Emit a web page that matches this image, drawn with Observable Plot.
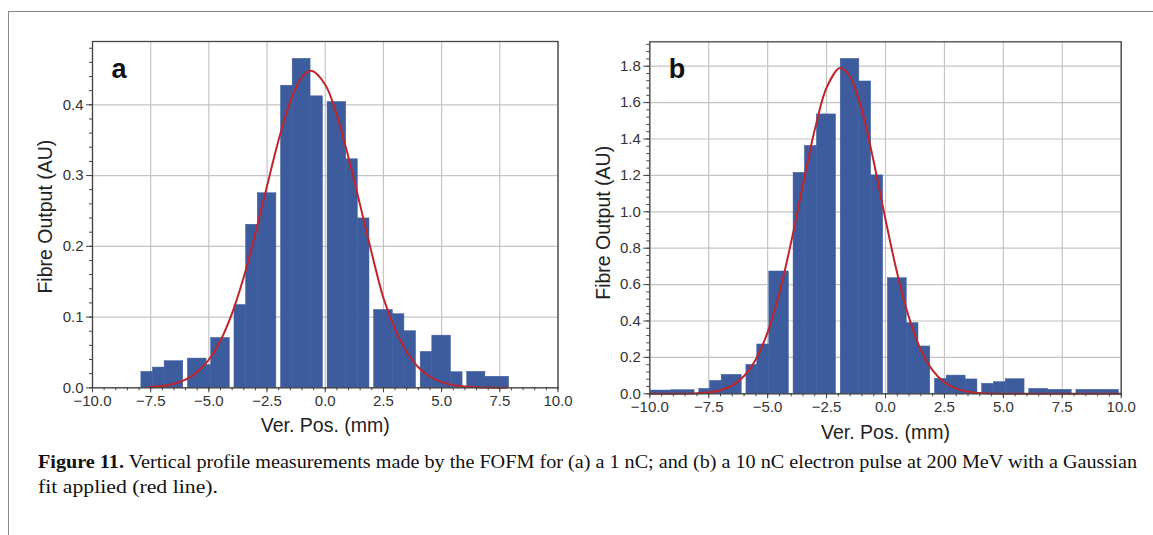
<!DOCTYPE html>
<html>
<head>
<meta charset="utf-8">
<script src="https://cdn.jsdelivr.net/npm/d3@7"></script>
<script src="https://cdn.jsdelivr.net/npm/@observablehq/plot@0.6"></script>
<style>
  html, body { margin: 0; padding: 0; background: #fff; }
  #page { position: relative; width: 1153px; height: 535px; overflow: hidden; background: #fff; }
  #frame { position: absolute; left: 8px; top: 11px; width: 1150px; height: 530px;
           border-top: 1.5px solid #8a8a8a; border-left: 1.5px solid #8a8a8a; }
  #pa { position: absolute; left: 0; top: 0; }
  #pb { position: absolute; left: 580px; top: 0; }
  #cap { position: absolute; left: 0; top: 440px; }
</style>
</head>
<body>
<div id="page">
  <div id="frame"></div>
  <div id="pa"></div>
  <div id="pb"></div>
  <svg id="cap" width="1153" height="95"></svg>
</div>
<script>
// ---------- data ----------
// Panel a: 1 nC
const aBinStart = [-7.9, -7.4, -6.9, -5.9, -5.1, -4.9, -3.9, -3.4, -2.9, -1.9, -1.4, -0.63, 0.1, 0.9, 1.4, 2.1, 2.9, 3.4, 4.1, 4.6, 5.4, 6.1, 6.88];
const aBinEnd   = [-7.4, -6.9, -6.1, -5.1, -4.9, -4.1, -3.4, -2.9, -2.1, -1.4, -0.63, -0.1, 0.9, 1.4, 1.9, 2.9, 3.4, 3.9, 4.6, 5.4, 5.9, 6.88, 7.9];
const aOutput   = [0.0225, 0.0286, 0.0376, 0.0413, 0.032, 0.0704, 0.117, 0.2305, 0.275, 0.427, 0.465, 0.412, 0.404, 0.323, 0.2394, 0.110, 0.104, 0.080, 0.0507, 0.0737, 0.022, 0.0225, 0.0156];
const aFitX = [-7.6, -7, -6.5, -6, -5.5, -5, -4.5, -4, -3.5, -3, -2.5, -2, -1.5, -1, -0.6, 0, 0.5, 1, 1.5, 2, 2.5, 3, 3.5, 4, 4.5, 5, 5.5, 6, 6.5, 7, 7.8];
const aFitY = [0.001, 0.0027, 0.0058, 0.0117, 0.0223, 0.0398, 0.0669, 0.1056, 0.1566, 0.2181, 0.2853, 0.3507, 0.4049, 0.4391, 0.448, 0.4283, 0.3851, 0.3253, 0.2582, 0.19, 0.127, 0.083, 0.051, 0.029, 0.016, 0.008, 0.0038, 0.0017, 0.0007, 0.0003, 0];

// Panel b: 10 nC
const bBinStart = [-9.95, -9.05, -7.9, -7.44, -6.95, -5.9, -5.44, -4.93, -3.9, -3.42, -2.91, -1.9, -1.11, -0.61, 0.1, 0.9, 1.4, 2.1, 2.6, 3.4, 4.1, 4.6, 5.1, 6.1, 6.9, 8.1];
const bBinEnd   = [-9.05, -8.1, -7.44, -6.95, -6.1, -5.44, -4.93, -4.1, -3.42, -2.91, -2.1, -1.11, -0.61, -0.1, 0.9, 1.4, 1.9, 2.6, 3.4, 3.9, 4.6, 5.1, 5.9, 6.9, 7.9, 9.9];
const bOutput   = [0.018, 0.02, 0.027, 0.071, 0.104, 0.159, 0.271, 0.672, 1.214, 1.362, 1.535, 1.84, 1.716, 1.2, 0.635, 0.388, 0.26, 0.082, 0.1, 0.079, 0.055, 0.064, 0.08, 0.027, 0.022, 0.022];
const bFitX = [-10, -9, -8, -7.5, -7, -6.5, -6, -5.5, -5, -4.5, -4, -3.5, -3, -2.5, -2, -1.9, -1.5, -1, -0.5, 0, 0.5, 1, 1.5, 2, 2.5, 3, 3.5, 4, 4.5, 5, 6, 8, 10];
const bFitY = [0, 0.0003, 0.0029, 0.0079, 0.0199, 0.046, 0.0977, 0.19, 0.339, 0.556, 0.835, 1.149, 1.452, 1.682, 1.787, 1.79, 1.741, 1.556, 1.275, 0.958, 0.661, 0.418, 0.242, 0.129, 0.0628, 0.0281, 0.0115, 0.0043, 0.0015, 0.0005, 0, 0, 0];

// ticks
const xTicks  = [-10, -7.5, -5, -2.5, 0, 2.5, 5, 7.5, 10];
const aYTicks = [0, 0.1, 0.2, 0.3, 0.4];
const bYTicks = [0, 0.2, 0.4, 0.6, 0.8, 1.0, 1.2, 1.4, 1.6, 1.8];
const xMinorStep = 0.5, aYMinorStep = 0.02, bYMinorStep = 0.04;
const panelLetters = ["a", "b"];
const xTitle = "Ver. Pos. (mm)";
const yTitle = "Fibre Output (AU)";

// ---------- drawing ----------
const BAR = "#3d5c9e", FIT = "#c0242c", GRID = "#c4c4c4", AXIS = "#444";
const fmt = d3.format(".1f");

function panel({bins, fitX, fitY, yTicks, yMinorStep, yMax, letter, width, height, margins, xTitleDy, yTitleDx, yTitleDy}) {
  const rows = bins[0].map((s, i) => ({x1: s, x2: bins[1][i], y: bins[2][i]}));
  const fit = fitX.map((x, i) => ({x, y: fitY[i]}));
  const xMinor = d3.range(-10, 10.0001, xMinorStep).map(v => +v.toFixed(3));
  const yMinor = d3.range(0, yMax, yMinorStep).map(v => +v.toFixed(4));
  return Plot.plot({
    width, height,
    marginLeft: margins[0], marginRight: margins[1], marginTop: margins[2], marginBottom: margins[3],
    style: {fontFamily: "'Liberation Sans', Arial, sans-serif", background: "transparent", overflow: "visible"},
    x: {domain: [-10, 10], label: null},
    y: {domain: [0, yMax], label: null},
    marks: [
      Plot.gridX(xTicks, {stroke: GRID, strokeOpacity: 1, strokeWidth: 1.2}),
      Plot.gridY(yTicks, {stroke: GRID, strokeOpacity: 1, strokeWidth: 1.2}),
      Plot.rectY(rows, {x1: "x1", x2: "x2", y: "y", fill: BAR, stroke: BAR, strokeWidth: 0.5, inset: 0}),
      Plot.line(fit, {x: "x", y: "y", stroke: FIT, strokeWidth: 2, curve: "catmull-rom"}),
      Plot.frame({stroke: AXIS, strokeWidth: 1.3}),
      Plot.axisX(xMinor, {tickSize: 3, tickFormat: () => "", stroke: AXIS, label: null}),
      Plot.axisY(yMinor, {tickSize: 3, tickFormat: () => "", stroke: AXIS, label: null}),
      Plot.axisX(xTicks, {tickSize: 5, tickPadding: 3, tickFormat: fmt, fontSize: 15, fill: "#333", stroke: AXIS, label: null}),
      Plot.axisY(yTicks, {tickSize: 6, tickPadding: 3, tickFormat: fmt, fontSize: 15, fill: "#333", stroke: AXIS, label: null}),
      Plot.text([letter], {frameAnchor: "top-left", dx: 19, dy: 28, text: d => d, fontSize: 27, fontWeight: "bold", fill: "#111", lineAnchor: "middle"}),
      Plot.text([xTitle], {frameAnchor: "bottom", dy: xTitleDy, text: d => d, fontSize: 19.5, fill: "#222", lineAnchor: "middle"}),
      Plot.text([yTitle], {frameAnchor: "left", dx: yTitleDx, dy: yTitleDy, text: d => d, fontSize: 19.5, fill: "#222", rotate: -90, textAnchor: "middle", lineAnchor: "middle"})
    ]
  });
}

document.getElementById("pa").appendChild(panel({
  bins: [aBinStart, aBinEnd, aOutput], fitX: aFitX, fitY: aFitY,
  yTicks: aYTicks, yMinorStep: aYMinorStep, yMax: 0.4895, letter: panelLetters[0],
  width: 580, height: 440, margins: [92, 22.5, 41, 52.7], xTitleDy: 38, yTitleDx: -47, yTitleDy: 2
}));
document.getElementById("pb").appendChild(panel({
  bins: [bBinStart, bBinEnd, bOutput], fitX: bFitX, fitY: bFitY,
  yTicks: bYTicks, yMinorStep: bYMinorStep, yMax: 1.934, letter: panelLetters[1],
  width: 573, height: 440, margins: [69.3, 32.3, 41.3, 46.7], xTitleDy: 39, yTitleDx: -46, yTitleDy: 5
}));

// caption
const capLine1Bold = "Figure 11.";
const capLine1 = " Vertical profile measurements made by the FOFM for (a) a 1 nC; and (b) a 10 nC electron pulse at 200 MeV with a Gaussian";
const capLine2 = "fit applied (red line).";
const cap = d3.select("#cap");
const t1 = cap.append("text").attr("x", 38).attr("y", 28)
  .attr("textLength", 1099).attr("lengthAdjust", "spacingAndGlyphs")
  .style("font-family", "'Liberation Serif', 'DejaVu Serif', serif").style("font-size", "18px").attr("fill", "#111");
t1.append("tspan").style("font-weight", "bold").text(capLine1Bold);
t1.append("tspan").text(capLine1);
cap.append("text").attr("x", 38).attr("y", 53)
  .attr("textLength", 180).attr("lengthAdjust", "spacingAndGlyphs")
  .style("font-family", "'Liberation Serif', 'DejaVu Serif', serif").style("font-size", "18px").attr("fill", "#111")
  .text(capLine2);
</script>
</body>
</html>
